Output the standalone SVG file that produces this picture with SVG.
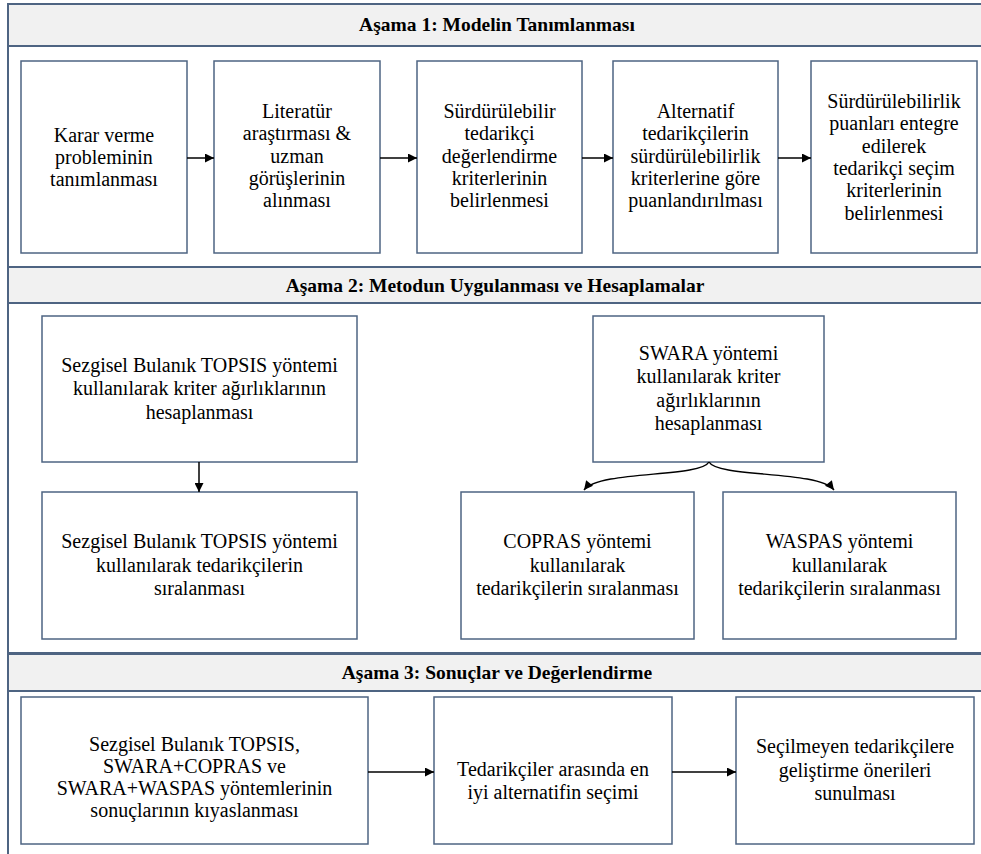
<svg xmlns="http://www.w3.org/2000/svg" width="981" height="854" viewBox="0 0 981 854">
<style>
.frame{fill:#ffffff;stroke:#4e6482;stroke-width:2}
.hdr{fill:#f1f1f1;stroke:#4e6482;stroke-width:2}
.box{fill:#ffffff;stroke:#4e6482;stroke-width:1.5}
.ht{font-family:"Liberation Serif","Times New Roman",serif;font-weight:bold;font-size:19.5px;fill:#000;text-anchor:middle}
.t{font-family:"Liberation Serif","Times New Roman",serif;font-size:20px;fill:#000;text-anchor:middle}
.c{fill:none;stroke:#000;stroke-width:1.5}
</style>
<defs>
<marker id="ah" viewBox="0 0 10 10" refX="10" refY="5" markerWidth="10" markerHeight="9" markerUnits="userSpaceOnUse" orient="auto">
<path d="M0,0 L10,5 L0,10 z" fill="#000"/>
</marker>
</defs>

<g id="stage1">
<rect class="frame" x="8" y="46" width="980" height="221"/>
<rect class="hdr" x="8" y="4" width="980" height="42"/>
<text class="ht" x="497" y="31">Aşama 1: Modelin Tanımlanması</text>
</g>
<g id="stage2">
<rect class="frame" x="8" y="303" width="980" height="350"/>
<rect class="hdr" x="8" y="267" width="980" height="36"/>
<text class="ht" x="495" y="292">Aşama 2: Metodun Uygulanması ve Hesaplamalar</text>
</g>
<g id="stage3">
<rect class="frame" x="8" y="691" width="980" height="180"/>
<rect class="hdr" x="8" y="654" width="980" height="37"/>
<text class="ht" x="497" y="679">Aşama 3: Sonuçlar ve Değerlendirme</text>
</g>

<g id="n1">
<rect class="box" x="21" y="61" width="166" height="192"/>
<text class="t" x="104"><tspan x="104" y="141.5">Karar verme</tspan><tspan x="104" y="163.5">probleminin</tspan><tspan x="104" y="185.5">tanımlanması</tspan></text>
</g>
<g id="n2">
<rect class="box" x="214" y="61" width="166" height="192"/>
<text class="t" x="297"><tspan x="297" y="118">Literatür</tspan><tspan x="297" y="140.3">araştırması &amp;</tspan><tspan x="297" y="162.6">uzman</tspan><tspan x="297" y="184.9">görüşlerinin</tspan><tspan x="297" y="207.2">alınması</tspan></text>
</g>
<g id="n3">
<rect class="box" x="417" y="61" width="165" height="192"/>
<text class="t" x="499.5"><tspan x="499.5" y="118">Sürdürülebilir</tspan><tspan x="499.5" y="140.3">tedarikçi</tspan><tspan x="499.5" y="162.6">değerlendirme</tspan><tspan x="499.5" y="184.9">kriterlerinin</tspan><tspan x="499.5" y="207.2">belirlenmesi</tspan></text>
</g>
<g id="n4">
<rect class="box" x="613" y="61" width="165" height="192"/>
<text class="t" x="695.5"><tspan x="695.5" y="118">Alternatif</tspan><tspan x="695.5" y="140.3">tedarikçilerin</tspan><tspan x="695.5" y="162.6">sürdürülebilirlik</tspan><tspan x="695.5" y="184.9">kriterlerine göre</tspan><tspan x="695.5" y="207.2">puanlandırılması</tspan></text>
</g>
<g id="n5">
<rect class="box" x="811" y="61" width="166" height="192"/>
<text class="t" x="894"><tspan x="894" y="108">Sürdürülebilirlik</tspan><tspan x="894" y="130.3">puanları entegre</tspan><tspan x="894" y="152.6">edilerek</tspan><tspan x="894" y="174.9">tedarikçi seçim</tspan><tspan x="894" y="197.2">kriterlerinin</tspan><tspan x="894" y="219.5">belirlenmesi</tspan></text>
</g>

<g id="n6">
<rect class="box" x="42" y="316" width="315" height="146"/>
<text class="t" x="199.5"><tspan x="199.5" y="371.5">Sezgisel Bulanık TOPSIS yöntemi</tspan><tspan x="199.5" y="395">kullanılarak kriter ağırlıklarının</tspan><tspan x="199.5" y="418.5">hesaplanması</tspan></text>
</g>
<g id="n7">
<rect class="box" x="42" y="492" width="315" height="147"/>
<text class="t" x="199.5"><tspan x="199.5" y="548">Sezgisel Bulanık TOPSIS yöntemi</tspan><tspan x="199.5" y="571.5">kullanılarak tedarikçilerin</tspan><tspan x="199.5" y="595">sıralanması</tspan></text>
</g>
<g id="n8">
<rect class="box" x="593" y="316" width="231" height="146"/>
<text class="t" x="708.5"><tspan x="708.5" y="359.5">SWARA yöntemi</tspan><tspan x="708.5" y="383">kullanılarak kriter</tspan><tspan x="708.5" y="406.5">ağırlıklarının</tspan><tspan x="708.5" y="430">hesaplanması</tspan></text>
</g>
<g id="n9">
<rect class="box" x="461" y="492" width="233" height="147"/>
<text class="t" x="577.5"><tspan x="577.5" y="548">COPRAS yöntemi</tspan><tspan x="577.5" y="571.5">kullanılarak</tspan><tspan x="577.5" y="595">tedarikçilerin sıralanması</tspan></text>
</g>
<g id="n10">
<rect class="box" x="723" y="492" width="233" height="147"/>
<text class="t" x="839.5"><tspan x="839.5" y="548">WASPAS yöntemi</tspan><tspan x="839.5" y="571.5">kullanılarak</tspan><tspan x="839.5" y="595">tedarikçilerin sıralanması</tspan></text>
</g>

<g id="n11">
<rect class="box" x="21" y="697" width="347" height="147"/>
<text class="t" x="194.5"><tspan x="194.5" y="751">Sezgisel Bulanık TOPSIS,</tspan><tspan x="194.5" y="773">SWARA+COPRAS ve</tspan><tspan x="194.5" y="795">SWARA+WASPAS yöntemlerinin</tspan><tspan x="194.5" y="817">sonuçlarının kıyaslanması</tspan></text>
</g>
<g id="n12">
<rect class="box" x="434" y="697" width="238" height="147"/>
<text class="t" x="553"><tspan x="553" y="776">Tedarikçiler arasında en</tspan><tspan x="553" y="799">iyi alternatifin seçimi</tspan></text>
</g>
<g id="n13">
<rect class="box" x="736" y="697" width="238" height="147"/>
<text class="t" x="855"><tspan x="855" y="753">Seçilmeyen tedarikçilere</tspan><tspan x="855" y="776.5">geliştirme önerileri</tspan><tspan x="855" y="800">sunulması</tspan></text>
</g>

<g id="connectors">
<line class="c" x1="187" y1="158" x2="214" y2="158" marker-end="url(#ah)"/>
<line class="c" x1="380" y1="158" x2="417" y2="158" marker-end="url(#ah)"/>
<line class="c" x1="582" y1="158" x2="613" y2="158" marker-end="url(#ah)"/>
<line class="c" x1="778" y1="158" x2="811" y2="158" marker-end="url(#ah)"/>
<line class="c" x1="199" y1="462" x2="199" y2="492" marker-end="url(#ah)"/>
<path class="c" d="M709,462 C700,478 600,470 584,490" marker-end="url(#ah)"/>
<path class="c" d="M709,462 C718,478 818,470 834,490" marker-end="url(#ah)"/>
<line class="c" x1="368" y1="772" x2="434" y2="772" marker-end="url(#ah)"/>
<line class="c" x1="672" y1="772" x2="736" y2="772" marker-end="url(#ah)"/>
</g>
</svg>
